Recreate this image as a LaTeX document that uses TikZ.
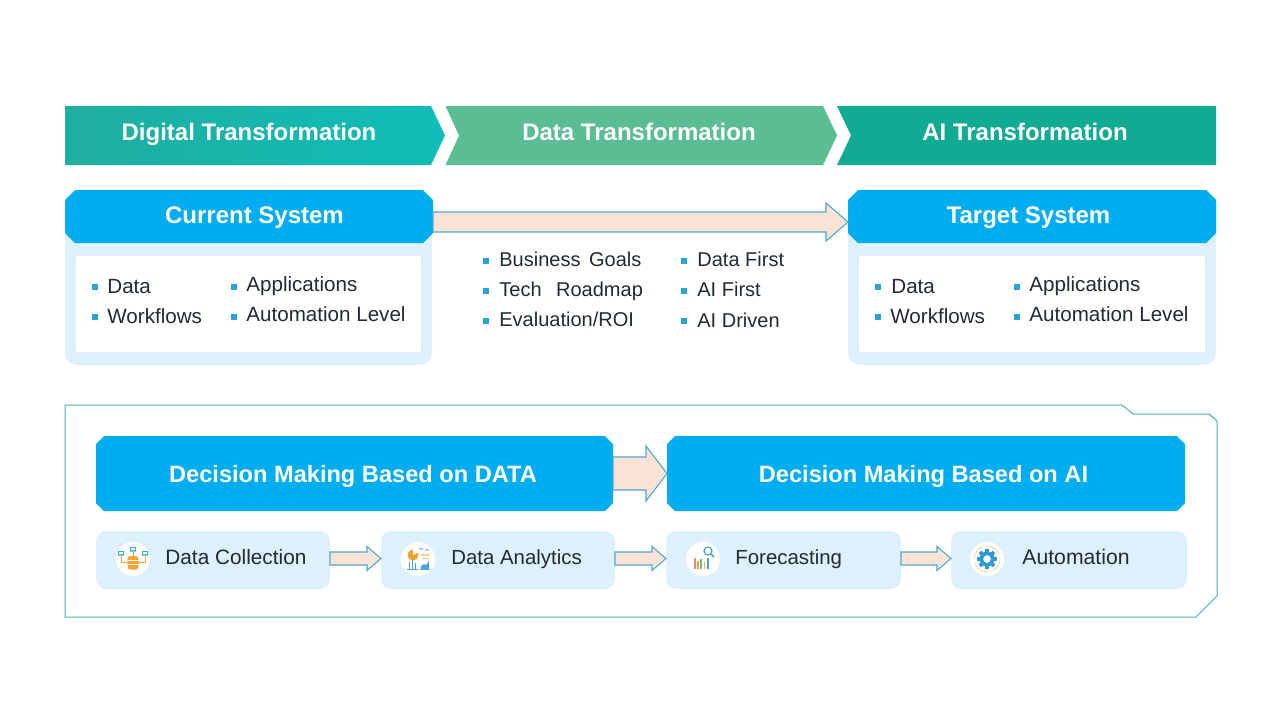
\documentclass[tikz,border=0pt]{standalone}
\usepackage{fontspec}
\setmainfont{Liberation Sans}
\usetikzlibrary{calc}
\definecolor{hdrblue}{HTML}{00ADEF}
\definecolor{panelblue}{HTML}{DDF0FB}
\definecolor{bulletblue}{HTML}{2AA3DC}
\definecolor{arrowfill}{HTML}{FAE3D6}
\definecolor{arrowline}{HTML}{4FA8D0}
\definecolor{framecol}{HTML}{45B0BC}
\definecolor{bodytext}{HTML}{222A33}
\definecolor{DTleft}{HTML}{1FAE9F}
\definecolor{DTright}{HTML}{0EBDB7}
\definecolor{DTmid}{HTML}{5ABD94}
\definecolor{ATcol}{HTML}{11AA92}
\definecolor{icontealfill}{HTML}{35B5C4}
\definecolor{iconorange}{HTML}{F2A32E}
\definecolor{iconblue}{HTML}{4AA6D8}
\definecolor{iconred}{HTML}{E58A7C}
\definecolor{icongreen}{HTML}{6CBF84}
\definecolor{gearblue}{HTML}{2E9BD6}
\tikzset{
  hdr/.style={rectangle,draw=none,inner sep=0pt,outer sep=0pt,minimum width=#1*0.5pt},
  hdrtext/.style={text=white,font=\bfseries\fontsize{#1}{#1}\selectfont,inner sep=0pt,anchor=base},
  bodyt/.style={text=bodytext,font=\fontsize{10.3}{10.3}\selectfont,inner sep=0pt,anchor=base west},
  steptext/.style={text=bodytext,font=\fontsize{10.4}{10.4}\selectfont,inner sep=0pt,anchor=base west},
  bul/.style={fill=bulletblue,draw=none,minimum size=3pt,inner sep=0pt,outer sep=0pt},
  stepbox/.style={rounded corners=5pt,fill=panelblue,draw=none,minimum width=#1*0.5pt,minimum height=29pt,inner sep=0pt,outer sep=0pt},
  iconbg/.style={circle,fill=white,draw=none,minimum size=17pt,inner sep=0pt,outer sep=0pt},
  blockarrow/.style={fill=arrowfill,draw=arrowline,line width=0.55pt,line join=miter}
}
% chamfered fill behind the named node #1, chamfer #2 (in picture units)
\newcommand{\chamf}[2]{%
  \fill[hdrblue] ($(#1.north west)+(#2,0)$) -- ($(#1.north east)+(-#2,0)$) -- ($(#1.north east)+(0,#2)$)
    -- ($(#1.south east)+(0,-#2)$) -- ($(#1.south east)+(-#2,0)$) -- ($(#1.south west)+(#2,0)$)
    -- ($(#1.south west)+(0,-#2)$) -- ($(#1.north west)+(0,#2)$) -- cycle;}
% #1 start, #2 tip, #3 half shaft, #4 half head, #5 head length (px)
\newcommand{\blockarr}[5]{%
  \draw[blockarrow] let \p1=(#1),\p2=(#2) in
    (\x1,\y1+#3*0.5pt) -- (\x2-#5*0.5pt,\y1+#3*0.5pt) -- (\x2-#5*0.5pt,\y1+#4*0.5pt)
    -- (\x2,\y1) -- (\x2-#5*0.5pt,\y1-#4*0.5pt) -- (\x2-#5*0.5pt,\y1-#3*0.5pt)
    -- (\x1,\y1-#3*0.5pt) -- cycle;}
% name, bullet x, bullet y, text x, baseline y, text
\newcommand{\lst}[6]{%
  \node[bul] (#1b) at (#2,#3) {};
  \node[bodyt] (#1) at (#4,#5) {#6};}
\newcommand{\midlst}[6]{%
  \node[bul] (#1b) at (#2,#3) {};
  \node[bodyt,font=\fontsize{10}{10}\selectfont] (#1) at (#4,#5) {#6};}
\begin{document}
\begin{tikzpicture}[x=0.5pt,y=-0.5pt]
\useasboundingbox (0,0) rectangle (1280,720);
\fill[white] (0,0) rectangle (1280,720);

% chevrons
\shade[left color=DTleft,right color=DTright] (65,106) -- (431,106) -- (445,135.5) -- (431,165) -- (65,165) -- cycle;
\fill[DTmid] (445.5,106) -- (823,106) -- (837,135.5) -- (823,165) -- (445.5,165) -- (459,135.5) -- cycle;
\fill[ATcol] (837,106) -- (1216,106) -- (1216,165) -- (837,165) -- (851,135.5) -- cycle;
\node[hdrtext=12] (dt) at (249,140) {Digital Transformation};
\node[hdrtext=12] (da) at (639,140) {Data Transformation};
\node[hdrtext=12] (at) at (1025,140) {AI Transformation};

% current system
\fill[panelblue,rounded corners=6pt] (65,225) rectangle (432,365);
\fill[white,rounded corners=1pt] (76,256) rectangle (421,352);
\node[hdr=368,minimum height=26.5pt] (cur) at (249,216.5) {};
\chamf{cur}{10}
\node[hdrtext=12] (curt) at (254.5,223) {Current System};
\lst{ca}{95}{287}{107}{293}{Data}
\lst{cb}{95}{317}{107}{323}{Workflows}
\lst{cc}{234}{287}{246}{291}{Applications}
\lst{cd}{234}{317}{246}{321}{Automation Level}

% target system
\fill[panelblue,rounded corners=6pt] (848,225) rectangle (1216,365);
\fill[white,rounded corners=1pt] (859,256) rectangle (1205,352);
\node[hdr=368,minimum height=26.5pt] (tgt) at (1032,216.5) {};
\chamf{tgt}{10}
\node[hdrtext=12] (tgtt) at (1028.5,223) {Target System};
\lst{ta}{878}{287}{891}{293}{Data}
\lst{tb}{878}{317}{890}{323}{Workflows}
\lst{tc}{1017}{287}{1029}{291}{Applications}
\lst{td}{1017}{317}{1029}{321}{Automation Level}

% main arrow
\blockarr{$(cur.east)+(0,5.5)$}{$(tgt.west)+(0,5.5)$}{10}{19}{22}

% middle lists
\midlst{ma}{486}{261}{499}{266.5}{Business\hspace{1.5pt} Goals}
\midlst{mb}{486}{291}{499}{296.5}{Tech\hspace{4.5pt} Roadmap}
\midlst{mc}{486}{321}{499}{326.5}{Evaluation/ROI}
\midlst{md}{684}{261}{697}{266.5}{Data First}
\midlst{me}{684}{291}{697}{296.5}{AI First}
\midlst{mf}{684}{321}{697}{327}{AI Driven}

% bottom frame
\draw[framecol,line width=0.5pt,line join=miter] (65,405) -- (1122,405) -- (1133,414) -- (1209,414) -- (1217,421) -- (1217,596) -- (1196,617) -- (65,617) -- cycle;

% decision headers
\node[hdr=517,minimum height=37.5pt] (dd) at (354.5,473.5) {};
\node[hdr=518,minimum height=37.5pt] (dai) at (926,473.5) {};
\chamf{dd}{8}
\chamf{dai}{8}
\node[hdrtext=11.8] (ddt) at (353,482) {Decision Making Based on DATA};
\node[hdrtext=11.8] (dait) at (923.5,482) {Decision Making Based on AI};
\blockarr{dd.east}{dai.west}{16.5}{27.5}{21}

% step boxes
\node[stepbox=234] (s1) at (213,560) {};
\node[stepbox=234] (s2) at (498,560) {};
\node[stepbox=235] (s3) at (783.5,560) {};
\node[stepbox=236] (s4) at (1069,560) {};
\blockarr{$(s1.east)+(0,-1.5)$}{$(s2.west)+(0,-1.5)$}{6.5}{12}{14}
\blockarr{$(s2.east)+(0,-1.5)$}{$(s3.west)+(0,-1.5)$}{6.5}{12}{14}
\blockarr{$(s3.east)+(0,-1.5)$}{$(s4.west)+(0,-1.5)$}{6.5}{12}{14}
\node[steptext] (s1t) at (165,564) {Data Collection};
\node[steptext,font=\fontsize{10.2}{10.2}\selectfont] (s2t) at (451,564) {Data Analytics};
\node[steptext,font=\fontsize{10.2}{10.2}\selectfont] (s3t) at (735,564) {Forecasting};
\node[steptext,font=\fontsize{10.6}{10.6}\selectfont] (s4t) at (1022,564) {Automation};

% icons
\node[iconbg] (i1) at (133,559) {};
\node[iconbg] (i2) at (418,559) {};
\node[iconbg] (i3) at (703,559) {};
\node[iconbg] (i4) at (987,559) {};

\begin{scope}[shift={(133,559)}]
  \draw[iconorange,line width=0.35pt] (0,-7) -- (0,-1) (-12,-3) -- (-12,3) -- (-5,3) (12,-3) -- (12,3) -- (5,3);
  \fill[icontealfill] (-3,-12) rectangle (3,-7.5) (-15,-8) rectangle (-9,-3.5) (9,-8) rectangle (15,-3.5);
  \fill[white] (-1.8,-11) rectangle (1.8,-9) (-13.8,-7) rectangle (-10.2,-5) (10.2,-7) rectangle (13.8,-5);
  \fill[iconorange,rounded corners=1.5pt] (-5.5,-3) rectangle (5.5,10.5);
  \draw[white,line width=0.35pt] (-5.5,1) -- (5.5,1) (-5.5,5.5) -- (5.5,5.5);
\end{scope}

\begin{scope}[shift={(418,559)}]
  \fill[iconorange] (-5,-4) circle[radius=5.5];
  \fill[white] (-5,-4) -- (-5,-10) -- (1,-7) -- cycle;
  \fill[iconblue!60] (1,-11) rectangle (5,-9.5) (7,-10) rectangle (11,-8.5);
  \fill[iconorange!70] (3,-5) rectangle (7,-3.5) (8,-5) rectangle (11,-3.5);
  \fill[iconorange!70] (4,-1.5) rectangle (11,0);
  \draw[iconblue,line width=0.3pt] (-11,10) -- (0,10) (2,10) -- (12,10);
  \draw[iconblue,line width=0.5pt] (-9,9.5) -- (-9,3) (-6,9.5) -- (-6,1) (-3,9.5) -- (-3,4);
  \fill[iconblue] (3,10) -- (3,7) -- (6,5) -- (8,6) -- (11,2) -- (11,10) -- cycle;
\end{scope}

\begin{scope}[shift={(703,559)}]
  \fill[iconred] (-9,-1) rectangle (-7.2,10);
  \fill[iconorange] (-5.8,2) rectangle (-4,10);
  \fill[icongreen] (-2.6,0) rectangle (-0.8,10);
  \fill[iconorange!80!yellow] (0.6,3) rectangle (2.4,10);
  \fill[iconblue] (3.8,-1) rectangle (5.6,10);
  \draw[icontealfill!80!gray,line width=0.6pt] (5,-8) circle[radius=4];
  \draw[icontealfill!80!gray,line width=0.8pt] (8,-5) -- (11,-2);
\end{scope}

\begin{scope}[shift={(987,559)}]
  \draw[iconorange!60,line width=0.3pt,dash pattern=on 8pt off 2pt] (0,0) circle[radius=13];
  \fill[gearblue] (0,0) circle[radius=7.5];
  \foreach \a in {0,45,...,315} {\fill[gearblue,rotate=\a] (-1.8,-10) rectangle (1.8,-6);}
  \fill[white] (0,0) circle[radius=3.8];
\end{scope}
\end{tikzpicture}
\end{document}
